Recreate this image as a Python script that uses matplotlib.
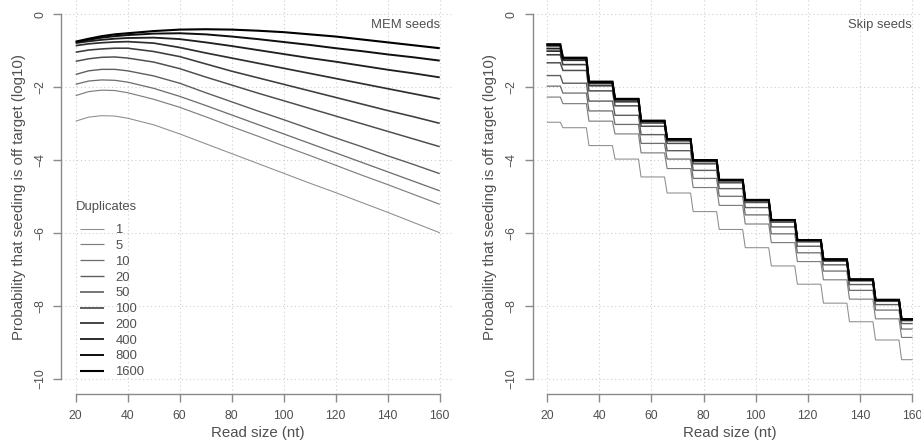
import matplotlib
matplotlib.use("Agg")
import matplotlib.pyplot as plt
import numpy as np

plt.rcParams['font.family'] = ['Liberation Sans', 'DejaVu Sans']

# duplicates levels (legend order)
duplicates = [1, 5, 10, 20, 50, 100, 200, 400, 800, 1600]

# ---- MEM seeds: read size vs log10 probability
mem_x = [20, 25, 30, 35, 40, 50, 60, 70, 80, 90, 100, 110, 120, 130, 140, 150, 160]
mem_1 = [-2.93, -2.82, -2.78, -2.79, -2.85, -3.03, -3.28, -3.55, -3.82, -4.09, -4.36, -4.63, -4.89, -5.16, -5.43, -5.71, -5.99]
mem_5 = [-2.23, -2.12, -2.08, -2.09, -2.15, -2.33, -2.55, -2.81, -3.08, -3.34, -3.61, -3.87, -4.14, -4.41, -4.67, -4.94, -5.21]
mem_10 = [-1.92, -1.83, -1.80, -1.81, -1.86, -2.03, -2.25, -2.50, -2.76, -3.02, -3.28, -3.54, -3.80, -4.06, -4.32, -4.58, -4.84]
mem_20 = [-1.65, -1.55, -1.51, -1.51, -1.55, -1.69, -1.89, -2.15, -2.40, -2.65, -2.89, -3.14, -3.39, -3.63, -3.88, -4.12, -4.37]
mem_50 = [-1.29, -1.22, -1.18, -1.17, -1.20, -1.31, -1.49, -1.72, -1.94, -2.16, -2.37, -2.58, -2.79, -3.00, -3.21, -3.42, -3.63]
mem_100 = [-1.04, -0.98, -0.95, -0.93, -0.93, -1.02, -1.16, -1.36, -1.56, -1.74, -1.92, -2.10, -2.28, -2.46, -2.64, -2.81, -2.99]
mem_200 = [-0.86, -0.81, -0.78, -0.76, -0.75, -0.79, -0.91, -1.06, -1.20, -1.34, -1.48, -1.62, -1.76, -1.90, -2.04, -2.18, -2.32]
mem_400 = [-0.79, -0.74, -0.70, -0.67, -0.65, -0.64, -0.68, -0.77, -0.87, -0.98, -1.09, -1.20, -1.30, -1.41, -1.52, -1.62, -1.73]
mem_800 = [-0.76, -0.70, -0.64, -0.60, -0.57, -0.53, -0.52, -0.55, -0.61, -0.68, -0.76, -0.84, -0.93, -1.01, -1.10, -1.18, -1.27]
mem_1600 = [-0.75, -0.67, -0.60, -0.55, -0.52, -0.46, -0.42, -0.41, -0.42, -0.45, -0.49, -0.55, -0.61, -0.69, -0.77, -0.85, -0.93]
mem_series = [mem_1, mem_5, mem_10, mem_20, mem_50, mem_100, mem_200, mem_400, mem_800, mem_1600]

# ---- Skip seeds: constant level on each read-size segment
skip_start = [20, 26, 36, 46, 56, 66, 76, 86, 96, 106, 116, 126, 136, 146, 156]
skip_end = [25, 35, 45, 55, 65, 75, 85, 95, 105, 115, 125, 135, 145, 155, 160]
skip_1 = [-2.96, -3.11, -3.60, -3.97, -4.46, -4.90, -5.41, -5.90, -6.40, -6.90, -7.40, -7.92, -8.43, -8.93, -9.47]
skip_5 = [-2.27, -2.45, -2.93, -3.28, -3.80, -4.23, -4.75, -5.24, -5.75, -6.26, -6.78, -7.28, -7.81, -8.35, -8.86]
skip_10 = [-1.97, -2.16, -2.65, -3.02, -3.54, -3.97, -4.50, -4.99, -5.50, -6.02, -6.54, -7.04, -7.57, -8.11, -8.63]
skip_20 = [-1.68, -1.89, -2.38, -2.77, -3.30, -3.74, -4.28, -4.78, -5.30, -5.83, -6.36, -6.87, -7.41, -7.96, -8.48]
skip_50 = [-1.33, -1.54, -2.10, -2.51, -3.07, -3.54, -4.10, -4.62, -5.16, -5.70, -6.24, -6.77, -7.31, -7.87, -8.40]
skip_100 = [-1.11, -1.38, -1.96, -2.40, -2.98, -3.47, -4.04, -4.57, -5.12, -5.66, -6.21, -6.74, -7.29, -7.85, -8.38]
skip_200 = [-1.01, -1.26, -1.90, -2.35, -2.94, -3.44, -4.01, -4.55, -5.10, -5.65, -6.20, -6.73, -7.28, -7.84, -8.37]
skip_400 = [-0.94, -1.22, -1.87, -2.33, -2.93, -3.43, -4.00, -4.54, -5.09, -5.64, -6.19, -6.72, -7.27, -7.83, -8.36]
skip_800 = [-0.86, -1.20, -1.85, -2.32, -2.92, -3.42, -4.00, -4.54, -5.09, -5.64, -6.19, -6.72, -7.27, -7.83, -8.36]
skip_1600 = [-0.82, -1.19, -1.85, -2.32, -2.92, -3.42, -4.00, -4.54, -5.09, -5.64, -6.19, -6.72, -7.27, -7.83, -8.36]
skip_series = [skip_1, skip_5, skip_10, skip_20, skip_50, skip_100, skip_200, skip_400, skip_800, skip_1600]

x_ticks = [20, 40, 60, 80, 100, 120, 140, 160]
y_ticks = [0, -2, -4, -6, -8, -10]

# styles: light grey thin -> black thick
greys = np.linspace(0.55, 0.0, len(duplicates))
widths = np.linspace(0.75, 1.5, len(duplicates))

axis_col = '#8a8a8a'
text_col = '#505050'

fig = plt.figure(figsize=(9.21, 4.44), dpi=100)
W, H = 921.0, 444.0
ax1 = fig.add_axes([61.1 / W, 1 - 393.6 / H, 393.2 / W, 393.9 / H])
ax2 = fig.add_axes([532.7 / W, 1 - 393.6 / H, 393.9 / W, 393.9 / H])


def style(ax):
    ax.set_xlim(14.4, 165.6)
    ax.set_ylim(-10.4, 0.4)
    ax.set_xticks(x_ticks)
    ax.set_yticks(y_ticks)
    ax.set_yticklabels([str(v).replace('-', '\u2212') for v in y_ticks],
                       rotation=90, va='center')
    ax.grid(True, color='#d0d0d0', linestyle=(0, (1, 2.5)), linewidth=0.8)
    ax.set_axisbelow(True)
    for s in ['top', 'right']:
        ax.spines[s].set_visible(False)
    ax.spines['left'].set_bounds(-10, 0)
    ax.spines['bottom'].set_bounds(20, 160)
    for s in ['left', 'bottom']:
        ax.spines[s].set_color(axis_col)
        ax.spines[s].set_linewidth(1.0)
    ax.tick_params(axis='both', direction='out', length=5.8, width=1.0,
                   color=axis_col, labelcolor=text_col, labelsize=8.8)
    ax.tick_params(axis='x', pad=6)
    ax.tick_params(axis='y', pad=5)
    ax.set_xlabel('Read size (nt)', fontsize=10.8, color=text_col, labelpad=3)
    ax.set_ylabel('Probability that seeding is off target (log10)',
                  fontsize=10.8, color=text_col, labelpad=6)


style(ax1)
style(ax2)

for i, ys in enumerate(mem_series):
    ax1.plot(mem_x, ys, color=str(greys[i]), lw=widths[i],
             label=str(duplicates[i]), solid_capstyle='butt')

for i, lv in enumerate(skip_series):
    xs, ys = [], []
    for a, b, v in zip(skip_start, skip_end, lv):
        xs += [a, b]
        ys += [v, v]
    ax2.plot(xs, ys, color=str(greys[i]), lw=widths[i], solid_joinstyle='miter')

ax1.text(160, -0.28, 'MEM seeds', ha='right', va='center', fontsize=9.4, color=text_col)
ax2.text(160, -0.28, 'Skip seeds', ha='right', va='center', fontsize=9.4, color=text_col)

ax1.text(20, -5.28, 'Duplicates', ha='left', va='center', fontsize=9.4, color=text_col)
leg = ax1.legend(loc='upper left', bbox_to_anchor=(21.6, -5.75),
                 bbox_transform=ax1.transData, frameon=False, fontsize=9.4,
                 borderpad=0, borderaxespad=0, handlelength=1.86,
                 handletextpad=0.87, labelspacing=0.28)
for t in leg.get_texts():
    t.set_color(text_col)

fig.savefig('out.png', dpi=100)
